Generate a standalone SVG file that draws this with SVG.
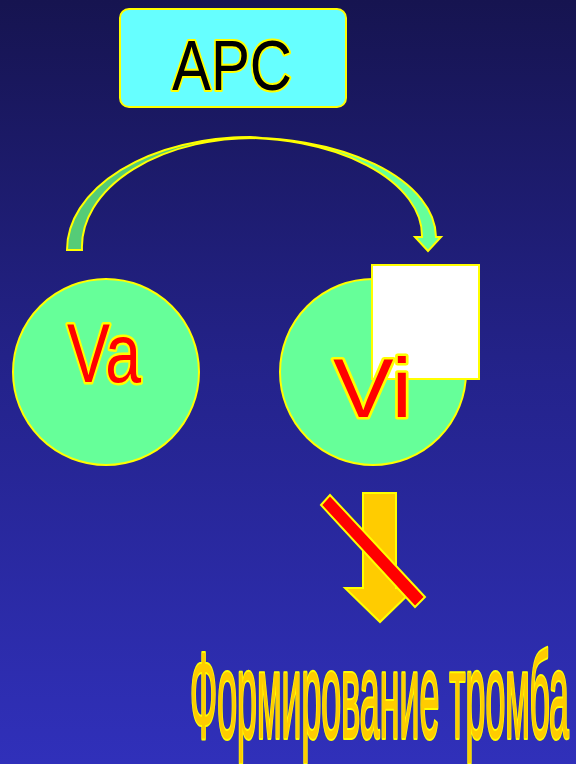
<svg xmlns="http://www.w3.org/2000/svg" width="576" height="764" viewBox="0 0 576 764">
<defs>
<linearGradient id="bg" x1="0" y1="0" x2="0" y2="1">
<stop offset="0" stop-color="#161450"/>
<stop offset="0.5" stop-color="#24238c"/>
<stop offset="1" stop-color="#3030ba"/>
</linearGradient>
<style>
.ol{stroke:#ffff00;stroke-width:2}
.node{fill:#66ff99;stroke:#ffff00;stroke-width:2}
.lbl{font-family:"Liberation Sans",Arial,sans-serif;paint-order:stroke;stroke:#ffff00;stroke-linejoin:round}
</style>
</defs>
<rect width="576" height="764" fill="url(#bg)"/>
<g id="apc">
<rect x="120" y="9" width="226" height="98" rx="9" fill="#66ffff" class="ol"/>
<text x="172" y="90" font-size="70" textLength="120" lengthAdjust="spacingAndGlyphs" fill="#000" stroke-width="4" class="lbl">APC</text>
</g>
<g id="connectors">
<path d="M67,250 A183,113 0 0 1 250,137 L262,138 A172,109 0 0 0 82,250 Z" fill="#55cc77" class="ol"/>
<path d="M232,138 A190,100 0 0 1 436,237 L441,237 L428,251 L415,237 L422,237 A180,98 0 0 0 232,138 Z" fill="#66ff99" class="ol"/>
</g>
<g id="va">
<circle cx="106" cy="372" r="93" class="node"/>
<text x="67" y="382" font-size="84" textLength="74" lengthAdjust="spacingAndGlyphs" fill="#ff0000" stroke-width="5" class="lbl">Va</text>
</g>
<g id="vi">
<circle cx="373" cy="372" r="93" class="node"/>
<rect x="372" y="265" width="107" height="114" fill="#ffffff" class="ol"/>
<text x="333" y="417" font-size="84" textLength="79" lengthAdjust="spacingAndGlyphs" fill="#ff0000" stroke-width="5" class="lbl">Vi</text>
</g>
<g id="blocked-arrow">
<polygon points="363,493 396,493 396,588 415,588 380,622 345,588 363,588" fill="#ffcc00" class="ol"/>
<polygon points="321,505 330,495 425,597 415,607" fill="#ff0000" class="ol"/>
</g>
<g id="result">
<text x="190" y="738" font-size="122" textLength="379" lengthAdjust="spacingAndGlyphs" fill="#ffcc00" stroke-width="4" class="lbl">Формирование тромба</text>
</g>
</svg>
